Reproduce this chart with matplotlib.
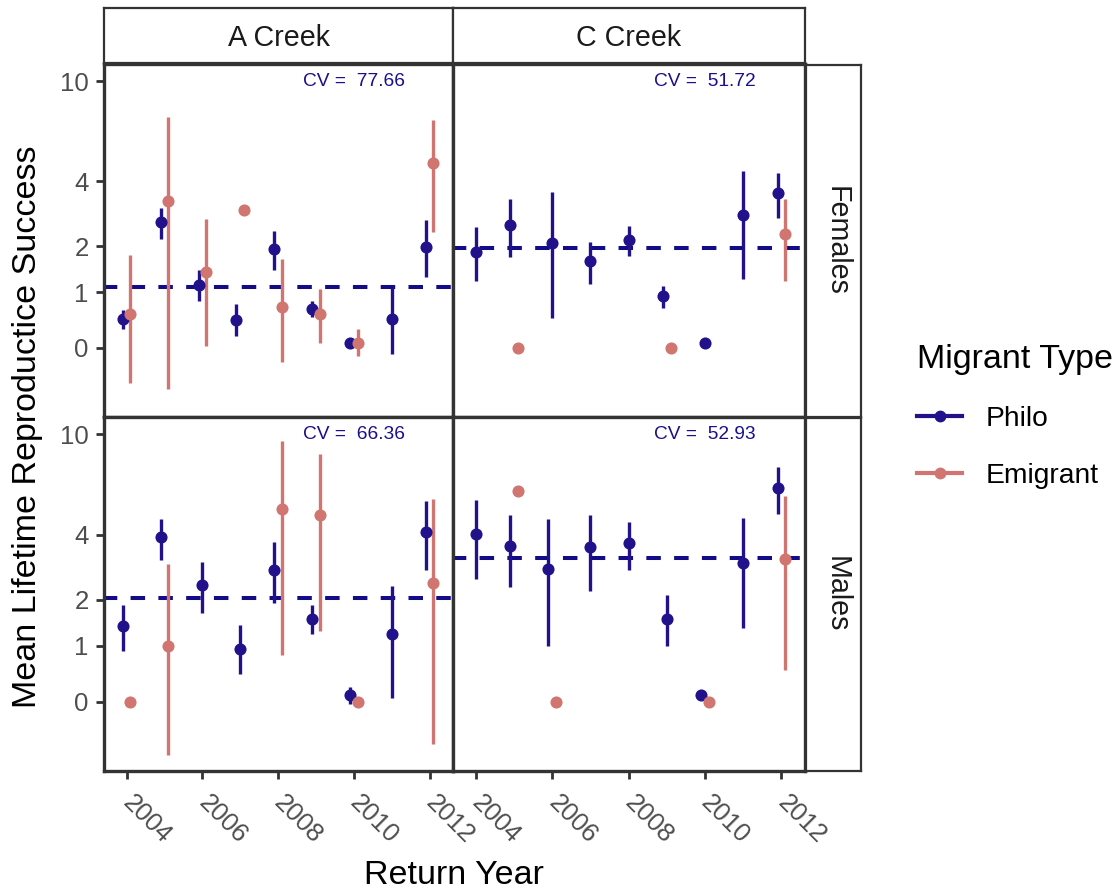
import numpy as np
import matplotlib
matplotlib.use("Agg")
import matplotlib.pyplot as plt
from matplotlib.lines import Line2D

plt.rcParams['font.family'] = ['Liberation Sans', 'DejaVu Sans']

nan = np.nan
years = [2004, 2005, 2006, 2007, 2008, 2009, 2010, 2011, 2012]

# A Creek, females
a_fem_philo = [0.51, 2.63, 1.15, 0.49, 1.92, 0.69, 0.08, 0.50, 1.99]
a_fem_philo_lo = [0.33, 2.18, 0.83, 0.20, 1.46, 0.54, nan, -0.10, 1.30]
a_fem_philo_hi = [0.67, 3.07, 1.46, 0.77, 2.38, 0.83, nan, 1.08, 2.69]
a_fem_emig = [0.59, 3.29, 1.40, 3.00, 0.73, 0.59, 0.09, nan, 4.74]
a_fem_emig_lo = [-0.62, -0.73, 0.03, nan, -0.25, 0.09, -0.14, nan, 2.36]
a_fem_emig_hi = [1.78, 7.29, 2.74, nan, 1.69, 1.07, 0.32, nan, 7.09]

# C Creek, females
c_fem_philo = [1.85, 2.55, 2.07, 1.65, 2.14, 0.92, 0.09, 2.84, 3.56]
c_fem_philo_lo = [1.22, 1.74, 0.52, 1.16, 1.76, 0.70, nan, 1.26, 2.77]
c_fem_philo_hi = [2.49, 3.36, 3.60, 2.10, 2.52, 1.12, nan, 4.41, 4.33]
c_fem_emig = [nan, 0.0, nan, nan, nan, 0.0, nan, nan, 2.30]
c_fem_emig_lo = [nan, nan, nan, nan, nan, nan, nan, nan, 1.23]
c_fem_emig_hi = [nan, nan, nan, nan, nan, nan, nan, nan, 3.36]

# A Creek, males
a_male_philo = [1.41, 3.89, 2.38, 0.95, 2.81, 1.55, 0.11, 1.23, 4.10]
a_male_philo_lo = [0.91, 3.12, 1.69, 0.48, 1.91, 1.23, -0.05, 0.06, 2.80]
a_male_philo_hi = [1.88, 4.64, 3.05, 1.42, 3.71, 1.88, 0.26, 2.36, 5.49]
a_male_emig = [0.0, 1.00, nan, nan, 5.10, 4.83, 0.0, nan, 2.43]
a_male_emig_lo = [nan, -0.96, nan, nan, 0.83, 1.30, nan, nan, -0.75]
a_male_emig_hi = [nan, 2.97, nan, nan, 9.43, 8.40, nan, nan, 5.60]

# C Creek, males
c_male_philo = [4.04, 3.57, 2.82, 3.54, 3.69, 1.56, 0.11, 3.02, 6.19]
c_male_philo_lo = [2.54, 2.32, 0.99, 2.21, 2.80, 1.00, nan, 1.37, 4.88]
c_male_philo_hi = [5.56, 4.80, 4.64, 4.83, 4.53, 2.12, nan, 4.68, 7.46]
c_male_emig = [nan, 6.01, 0.0, nan, nan, nan, 0.0, nan, 3.15]
c_male_emig_lo = [nan, nan, nan, nan, nan, nan, nan, nan, 0.56]
c_male_emig_hi = [nan, nan, nan, nan, nan, nan, nan, nan, 5.75]

cv_labels = {"a_fem": "77.66", "c_fem": "51.72", "a_male": "66.36", "c_male": "52.93"}

creeks = ["A Creek", "C Creek"]
sexes = ["Females", "Males"]
y_breaks = [0, 1, 2, 4, 10]
x_breaks = [2004, 2006, 2008, 2010, 2012]

PHILO = "#21118a"
EMIG = "#d07570"
HLINE = "#140c86"
DARK = "#333333"

W, H = 1118, 894
fig = plt.figure(figsize=(W / 100, H / 100), dpi=100)


def px_axes(x0, y0, x1, y1):
    return fig.add_axes([x0 / W, 1 - y1 / H, (x1 - x0) / W, (y1 - y0) / H])


def fwd(v):
    return np.arcsinh(np.asarray(v, dtype=float) / 2.0)


def inv(t):
    return 2.0 * np.sinh(np.asarray(t, dtype=float))


panels = {
    (0, 0): ("a_fem", a_fem_philo, a_fem_philo_lo, a_fem_philo_hi, a_fem_emig, a_fem_emig_lo, a_fem_emig_hi),
    (0, 1): ("c_fem", c_fem_philo, c_fem_philo_lo, c_fem_philo_hi, c_fem_emig, c_fem_emig_lo, c_fem_emig_hi),
    (1, 0): ("a_male", a_male_philo, a_male_philo_lo, a_male_philo_hi, a_male_emig, a_male_emig_lo, a_male_emig_hi),
    (1, 1): ("c_male", c_male_philo, c_male_philo_lo, c_male_philo_hi, c_male_emig, c_male_emig_lo, c_male_emig_hi),
}

col_x = [(104, 453), (453, 805)]
row_y = [(64, 417), (417, 771)]
dodge = 0.1

for (r, c), (key, pm, plo, phi, em, elo, ehi) in panels.items():
    x0, x1 = col_x[c]
    y0, y1 = row_y[r]
    ax = px_axes(x0, y0, x1, y1)
    ax.set_yscale('function', functions=(fwd, inv))
    ax.set_xlim(2003.4, 2012.62)
    ax.set_ylim(inv(-0.60), inv(2.46))

    yrs = np.array(years, dtype=float)
    pm, plo, phi = map(lambda a: np.array(a, dtype=float), (pm, plo, phi))
    em, elo, ehi = map(lambda a: np.array(a, dtype=float), (em, elo, ehi))
    both = ~np.isnan(pm) & ~np.isnan(em)
    xp = yrs - np.where(both, dodge, 0.0)
    xe = yrs + np.where(both, dodge, 0.0)

    # reference line at the mean of the philopatric means
    ax.axhline(np.nanmean(pm), color=HLINE, lw=2.9, ls=(0.3, (3.6, 3.3)), zorder=1)

    ok = ~np.isnan(plo)
    ax.vlines(xp[ok], plo[ok], phi[ok], color=PHILO, lw=2.4, zorder=2)
    ok = ~np.isnan(elo)
    ax.vlines(xe[ok], elo[ok], ehi[ok], color=EMIG, lw=2.4, zorder=2)
    ax.scatter(xp, pm, s=76, color=PHILO, zorder=3, linewidths=0)
    ax.scatter(xe, em, s=76, color=EMIG, zorder=4, linewidths=0)

    ax.text(2010, 10, "CV =  " + cv_labels[key], color="#1a0f8c", fontsize=13.8,
            ha="center", va="center", zorder=5)

    for sp in ax.spines.values():
        sp.set_linewidth(2.4)
        sp.set_color(DARK)
    ax.set_yticks(y_breaks)
    ax.set_xticks(x_breaks)
    ax.minorticks_off()
    ax.tick_params(axis='both', length=6, width=2.0, color=DARK, labelsize=18.6,
                   labelcolor="#4d4d4d", direction='out')
    if c == 0:
        ax.set_yticklabels([str(v) for v in y_breaks])
        ax.tick_params(axis='y', pad=5)
    else:
        ax.tick_params(axis='y', left=False, labelleft=False)
    if r == 1:
        ax.set_xticklabels([str(v) for v in x_breaks], rotation=-45,
                           ha='left', va='center', rotation_mode='anchor')
        ax.tick_params(axis='x', pad=14)
    else:
        ax.tick_params(axis='x', bottom=False, labelbottom=False)

# top strips
for c, name in enumerate(creeks):
    x0, x1 = col_x[c]
    sax = px_axes(x0, 8, x1, 63)
    sax.set_xticks([]); sax.set_yticks([])
    for sp in sax.spines.values():
        sp.set_linewidth(1.6); sp.set_color(DARK)
    sax.text(0.5, 0.45, name, transform=sax.transAxes, ha='center', va='center',
             fontsize=20.6, color="#1a1a1a")

# right strips
for r, name in enumerate(sexes):
    y0, y1 = row_y[r]
    sax = px_axes(806, y0 + 1, 861, y1)
    sax.set_xticks([]); sax.set_yticks([])
    for sp in sax.spines.values():
        sp.set_linewidth(1.6); sp.set_color(DARK)
    sax.text(0.55, 0.5, name, transform=sax.transAxes, ha='center', va='center',
             fontsize=20.6, color="#1a1a1a", rotation=-90)

fig.text(28 / W, 1 - 427 / H, "Mean Lifetime Reproductice Success", rotation=90,
         ha='center', va='center', fontsize=24.5, color='black')
fig.text(454 / W, 1 - 876 / H, "Return Year", ha='center', va='center',
         fontsize=24.5, color='black')

handles = [
    Line2D([0], [0], color=PHILO, lw=3, marker='o', markersize=8.5, markeredgewidth=0),
    Line2D([0], [0], color=EMIG, lw=3, marker='o', markersize=8.5, markeredgewidth=0),
]
leg = fig.legend(handles, ["Philo", "Emigrant"], title="Migrant Type",
                 loc='upper left', bbox_to_anchor=(917 / W, 1 - 344 / H),
                 frameon=False, fontsize=20.3, title_fontsize=24.5, borderpad=0,
                 borderaxespad=0, handlelength=1.6, handletextpad=0.85,
                 labelspacing=1.1, alignment='left')

fig.savefig("out.png", dpi=100)
